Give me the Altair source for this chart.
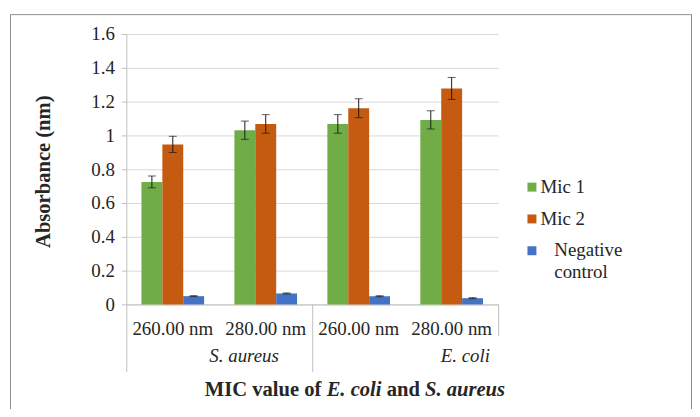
import altair as alt
import pandas as pd

# ---- data ----
categories = ["260.00 nm", "280.00 nm", "260.00 nm", "280.00 nm"]
organisms = ["S. aureus", "S. aureus", "E. coli", "E. coli"]
series = ["Mic 1", "Mic 2", "Negative control"]
mic1 = [0.725, 1.031, 1.068, 1.092]
mic1_err = [0.035, 0.054, 0.055, 0.054]
mic2 = [0.947, 1.068, 1.161, 1.278]
mic2_err = [0.048, 0.055, 0.056, 0.065]
neg = [0.049, 0.065, 0.049, 0.037]
neg_err = [0.003, 0.003, 0.003, 0.003]
colors = ["#70AD47", "#C55A11", "#4472C4"]
y_ticks = [0, 0.2, 0.4, 0.6, 0.8, 1.0, 1.2, 1.4, 1.6]

rows = []
for s, vals, errs in zip(series, [mic1, mic2, neg], [mic1_err, mic2_err, neg_err]):
    for c, o, v, e in zip(categories, organisms, vals, errs):
        rows.append({"cat": f"{o}|{c}", "series": s, "value": v,
                     "lo": v - e, "hi": v + e})
df = pd.DataFrame(rows)
cat_order = [f"{o}|{c}" for o, c in zip(organisms, categories)]

SERIF = "Liberation Serif"
W, H = 374, 272
AXC = "#bfbfbf"
TXT = "#262626"

x_scale = alt.Scale(paddingInner=0.326, paddingOuter=0.163)
x_axis = alt.Axis(title=None, labelExpr="split(datum.label, '|')[1]",
                  ticks=False, tickSize=0, labelAngle=0, labelFont=SERIF,
                  labelFontSize=19, labelColor=TXT, labelPadding=30,
                  labelBaseline="alphabetic", domainColor=AXC, grid=False,
                  labelLimit=200)
y_scale = alt.Scale(domain=[0, 1.6], nice=False)
y_axis = alt.Axis(values=y_ticks, format="~g", title="Absorbance (nm)",
                  titleFont=SERIF, titleFontSize=20.7,
                  titleFontWeight="bold", titleColor=TXT,
                  titleX=-83, titleY=138, titleBaseline="middle",
                  titleAlign="center", labelOverlap=False,
                  labelFont=SERIF, labelFontSize=19, labelColor=TXT,
                  labelPadding=7, tickSize=5, tickColor=AXC,
                  domainColor=AXC, gridColor="#d9d9d9")

x_enc = alt.X("cat:N", sort=cat_order, scale=x_scale, axis=x_axis)
xoff = alt.XOffset("series:N", sort=series,
                   scale=alt.Scale(paddingInner=0, paddingOuter=0))

bars = alt.Chart(df).mark_bar().encode(
    x=x_enc,
    xOffset=xoff,
    y=alt.Y("value:Q", scale=y_scale, axis=y_axis),
    color=alt.Color("series:N", sort=series,
                    scale=alt.Scale(domain=series, range=colors),
                    legend=None),
)

err = alt.Chart(df).mark_rule(color="#1a1a1a", strokeWidth=1).encode(
    x=x_enc, xOffset=xoff,
    y=alt.Y("lo:Q", scale=y_scale, axis=y_axis),
    y2="hi:Q",
)
cap_hi = alt.Chart(df).mark_tick(color="#1a1a1a", size=8, thickness=1).encode(
    x=x_enc, xOffset=xoff,
    y=alt.Y("hi:Q", scale=y_scale, axis=y_axis))
cap_lo = alt.Chart(df).mark_tick(color="#1a1a1a", size=8, thickness=1).encode(
    x=x_enc, xOffset=xoff,
    y=alt.Y("lo:Q", scale=y_scale, axis=y_axis))

one = pd.DataFrame({"k": [0]})

def rule(x, y1, y2, color=AXC):
    return alt.Chart(one).mark_rule(color=color, strokeWidth=1).encode(
        x=alt.value(x), y=alt.value(y1), y2=alt.value(y2))

seps = rule(0.5, H, H + 68) + rule(W / 2 + 0.5, H, H + 68) + rule(W + 0.5, H, H + 32)

def txt(text, x, y, size, weight="normal", style="normal", align="center"):
    return alt.Chart(one).mark_text(
        text=text, font=SERIF, fontSize=size, fontWeight=weight,
        fontStyle=style, align=align, baseline="alphabetic", color=TXT
    ).encode(x=alt.value(x), y=alt.value(y))

species = (txt(organisms[0], 118.5, 330, 19, style="italic")
           + txt(organisms[2], 341, 330, 19, style="italic"))

TY = 364
title = (txt("MIC value of", 79, TY, 20.7, weight="bold", align="left")
         + txt("E. coli", 201.5, TY, 20.7, weight="bold", style="italic", align="left")
         + txt("and", 261.9, TY, 20.7, weight="bold", align="left")
         + txt("S. aureus", 300.4, TY, 20.7, weight="bold", style="italic", align="left"))

# legend (Excel style, the last entry wrapped onto two lines)
def swatch(color, y):
    return alt.Chart(one).mark_square(size=81, color=color, opacity=1).encode(
        x=alt.value(408), y=alt.value(y))

legend = (swatch(colors[0], 154) + swatch(colors[1], 186) + swatch(colors[2], 218)
          + txt(series[0], 416.5, 160, 19, align="left")
          + txt(series[1], 416.5, 192, 19, align="left")
          + txt(series[2].split(" ")[0], 430.5, 223, 19, align="left")
          + txt(series[2].split(" ")[1], 430.5, 245, 19, align="left"))

border = alt.Chart(one).mark_rect(fill="transparent", stroke="#8c8c8c",
                                  strokeWidth=1).encode(
    x=alt.value(-116.5), x2=alt.value(568.5), y=alt.value(-19.5), y2=alt.value(420))

chart = alt.layer(border, bars, err, cap_hi, cap_lo, seps, species, title, legend).properties(
    width=W, height=H,
    autosize=alt.AutoSizeParams(type="none"),
    padding={"left": 119, "top": 25, "right": 195, "bottom": 104},
).configure_view(strokeWidth=0)

chart.save("out.html", embed_options={"renderer": "svg", "actions": False})
